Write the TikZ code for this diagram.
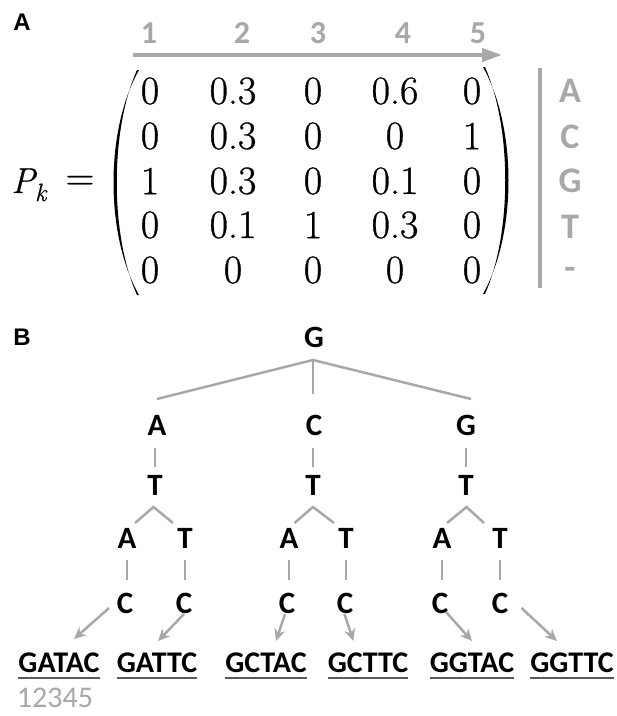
\documentclass[tikz,border=0pt]{standalone}
\usepackage{fontspec}
\newfontfamily\carl{Carlito}
\newfontfamily\arl{Liberation Sans}
\newfontfamily\lmr{Latin Modern Roman}[FakeBold=0.8]
\newfontfamily\lmi{Latin Modern Roman}[FakeBold=0.5]
\usetikzlibrary{arrows.meta,calc}
\definecolor{lg}{HTML}{A8A8A8}
\definecolor{ulc}{HTML}{5A5A5A}
\begin{document}
\begin{tikzpicture}[x=1pt,y=-1pt,
  panel/.style={font=\arl\bfseries\fontsize{24}{24}\selectfont, inner sep=0},
  coln/.style={font=\carl\bfseries\fontsize{32}{32}\selectfont, text=lg, inner sep=0},
  rowl/.style={font=\carl\bfseries\fontsize{36}{36}\selectfont, text=lg, inner sep=0},
  ent/.style={font=\lmr\fontsize{40}{40}\selectfont, inner sep=0},
  base/.style={font=\carl\bfseries\fontsize{31}{31}\selectfont, inner sep=0},
  word/.style={font=\carl\bfseries\fontsize{30}{30}\selectfont, inner sep=0},
  edge/.style={draw=lg, line width=2.5pt},
  arr/.style={draw=lg, line width=2.5pt, -{Stealth[length=12pt,width=11pt]}},
  uline/.style={draw=ulc, line width=2pt},
]
\useasboundingbox (0,0) rectangle (617,716);
% ---------- Panel A ----------
\node[panel] (pa) at (22,22) {A};
\foreach \n/\x in {1/149,2/242,3/318,4/403,5/478}
  \node[coln] (n\n) at (\x,33) {\n};
\coordinate (as) at (133,55);
\coordinate (ae) at (502,55);
\draw[draw=lg, line width=4pt, -{Triangle[length=20pt,width=13pt]}] (as) -- (ae);
% matrix entries
\foreach \r/\y/\a/\b/\c/\d/\e in {1/91/0/0.3/0/0.6/0, 2/136/0/0.3/0/0/1, 3/181/1/0.3/0/0.1/0, 4/225/0/0.1/1/0.3/0, 5/270/0/0/0/0/0}{
  \node[ent] (m\r a) at (150,\y) {\a};
  \node[ent] (m\r b) at (233,\y) {\b};
  \node[ent] (m\r c) at (313,\y) {\c};
  \node[ent] (m\r d) at (395,\y) {\d};
  \node[ent] (m\r e) at (472,\y) {\e};
}
% parentheses
\fill (139,70) .. controls (105,130) and (105,235) .. (139,295)
  -- (137,295) .. controls (110,235) and (110,130) .. (137,70) -- cycle;
\fill (483,67) .. controls (517,128) and (517,233) .. (483,294)
  -- (485,294) .. controls (512,233) and (512,128) .. (485,67) -- cycle;
% P_k =
\node[inner sep=0, anchor=base west, font=\lmi\fontsize{36}{36}\selectfont] (pk) at (11,193) {\itshape P\raisebox{-8pt}{\fontsize{25}{25}\selectfont k}};
\node[inner sep=0, font=\lmi\fontsize{40}{40}\selectfont] (eq) at (80,183) {=};
% row labels
\coordinate (vt) at (540,68);
\coordinate (vb) at (540,288);
\draw[draw=lg, line width=4pt] (vt) -- (vb);
\foreach \l/\y/\nm in {A/91/ra, C/137/rc, G/181/rg, T/227/rt, -/273/rd}
  \node[rowl] (\nm) at (570,\y) {\l};
% ---------- Panel B ----------
\node[panel] (pb) at (22,337) {B};
\node[base] (root) at (314,337) {G};
\coordinate (rj) at (313,360);
\node[base] (a1) at (157,425) {A};
\node[base] (c1) at (314,425) {C};
\node[base] (g1) at (466,425) {G};
\coordinate (e1) at (157,399);
\coordinate (e2) at (313,394);
\coordinate (e3) at (471,399);
\draw[edge] (e1) -- (rj) -- (e3);
\draw[edge] (rj) -- (e2);
% T level
\node[base] (t1) at (155,485) {T};
\node[base] (t2) at (313,485) {T};
\node[base] (t3) at (466,485) {T};
\draw[edge] (155,448) -- (155,467);
\draw[edge] (313,448) -- (313,467);
\draw[edge] (466,448) -- (466,467);
% level 4
\foreach \i/\x/\l in {1/127/A,2/185/T,3/289/A,4/346/T,5/442/A,6/500/T}
  \node[base] (l\i) at (\x,538) {\l};
\foreach \t/\x/\u/\v in {t1/153.5/135/173, t2/313/294.5/334, t3/466.5/447/484}{
  \coordinate (j\t) at (\x,507);
  \draw[edge] (\u,523) -- (j\t) -- (\v,523);
}
% C level
\foreach \i/\x in {1/125,2/184,3/287,4/345,5/440,6/500}
  \node[base] (c\i x) at (\x,603) {C};
\foreach \i/\x in {1/127,2/185,3/289,4/346,5/442,6/500}
  \draw[edge] (\x,560) -- (\x,580);
% words
\foreach \i/\x/\w in {1/59/GATAC,2/157/GATTC,3/266/GCTAC,4/368/GCTTC,5/472/GGTAC,6/572/GGTTC}{
  \node[word] (w\i) at (\x,663) {\w};
  \draw[uline] ([yshift=-5pt]w\i.south west) -- ([yshift=-5pt]w\i.south east);
}
% arrows
\draw[arr] (109,608) -- (74,639);
\draw[arr] (184,614) -- (158,641);
\draw[arr] (285,614) -- (276,641);
\draw[arr] (344.5,614) -- (353.5,641);
\draw[arr] (446,612) -- (472,641);
\draw[arr] (521.5,608) -- (557,641);
% index
\node[inner sep=0, font=\carl\fontsize{30}{30}\selectfont, text=lg] (idx) at (55,698) {12345};
\end{tikzpicture}
\end{document}
